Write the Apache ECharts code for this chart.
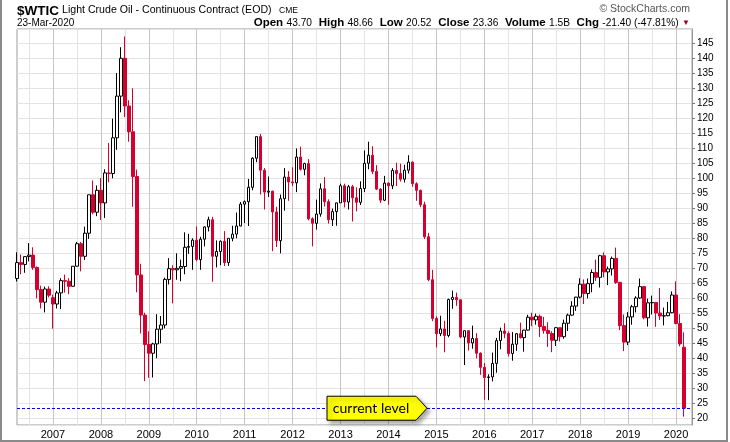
<!DOCTYPE html>
<html><head><meta charset="utf-8">
<script src="https://cdn.jsdelivr.net/npm/echarts@6/dist/echarts.min.js"></script>
<style>html,body{margin:0;padding:0;background:#fff}#c{width:730px;height:442px}</style>
</head><body><div id="c"></div>
<script>
// Monthly candles, Apr 2006 .. Mar 2020
const START_YEAR = 2006, START_MONTH = 4, AXIS_MONTHS = 170; // axis runs to May 2020
const openP = [
 66.6, 71.9, 71.3, 73.9, 74.4, 70.3, 62.9, 58.7, 63.1,
 60.2, 58.1, 61.8, 65.9, 65.7, 64.0, 70.7, 78.2, 74.0, 81.7, 94.5, 88.7,
 96.0, 91.8, 101.8, 101.6, 113.5, 127.4, 140.0, 124.1, 115.5, 100.6, 67.8, 54.4,
 44.6, 41.7, 44.8, 49.7, 51.1, 66.3, 69.9, 69.5, 70.0, 70.6, 77.0, 77.3,
 79.4, 72.9, 79.7, 83.8, 86.2, 74.0, 75.6, 79.0, 71.9, 80.0, 81.4, 84.1,
 91.4, 92.2, 97.0, 106.7, 113.9, 102.7, 95.4, 95.7, 88.8, 79.2, 93.2, 100.4,
 98.8, 98.5, 107.1, 103.0, 104.9, 86.5, 85.0, 88.1, 96.5, 92.2, 86.2, 88.9,
 91.8, 97.5, 92.1, 97.2, 93.5, 92.0, 96.6, 105.0, 107.7, 102.3, 96.4, 92.7,
 98.4, 97.5, 102.6, 101.6, 99.7, 102.7, 105.4, 98.2, 96.0, 91.2, 80.5, 66.2,
 53.3, 48.2, 49.8, 47.6, 59.6, 60.3, 59.5, 47.1, 49.2, 45.1, 46.6, 41.7,
 37.0, 33.6, 33.8, 38.3, 45.9, 49.1, 48.3, 41.6, 44.7, 48.2, 46.9, 49.4,
 53.7, 52.8, 54.0, 50.6, 49.3, 48.3, 46.0, 50.2, 47.2, 51.7, 54.4, 57.4,
 60.4, 64.7, 61.6, 64.9, 68.6, 67.0, 74.2, 68.8, 69.8, 73.3, 65.3, 50.9,
 45.4, 53.8, 57.2, 60.1, 63.9, 53.5, 58.5, 58.6, 55.1, 54.1, 54.2, 55.2,
 61.1, 51.6, 43.7
];
const highP = [
 75.35, 74.6, 74.0, 78.4, 77.0, 70.6, 64.2, 63.9, 64.0,
 61.2, 62.5, 66.7, 67.9, 66.7, 70.7, 78.8, 78.8, 83.9, 94.5, 99.3, 97.6,
 100.1, 103.0, 111.8, 119.9, 135.1, 143.7, 147.3, 126.0, 130.0, 102.9, 71.5, 55.2,
 49.0, 45.2, 54.7, 54.1, 66.9, 73.4, 71.0, 75.0, 72.9, 82.0, 81.5, 80.0,
 83.95, 80.5, 83.9, 87.2, 87.15, 79.3, 79.3, 82.4, 80.1, 84.2, 88.6, 92.1,
 92.6, 99.8, 107.0, 113.9, 114.8, 103.4, 100.6, 95.9, 90.5, 94.6, 103.4, 102.4,
 103.7, 109.95, 110.55, 105.2, 106.4, 87.0, 92.9, 98.3, 100.4, 93.0, 89.9, 91.9,
 98.2, 98.2, 97.8, 97.8, 97.0, 99.0, 109.3, 112.2, 110.7, 104.4, 96.7, 100.8,
 98.6, 103.4, 105.2, 104.9, 104.5, 107.7, 105.6, 98.7, 96.2, 92.2, 81.8, 69.5,
 54.0, 54.2, 52.5, 59.9, 62.6, 61.9, 59.7, 49.3, 49.3, 50.9, 48.4, 42.0,
 38.4, 34.7, 41.9, 46.8, 50.2, 51.7, 49.0, 48.75, 48.4, 51.9, 49.5, 54.5,
 55.2, 54.9, 54.6, 53.8, 52.0, 49.0, 50.4, 50.2, 52.9, 54.9, 59.05, 60.5,
 66.7, 66.3, 66.6, 69.6, 72.9, 74.5, 75.3, 70.6, 73.9, 76.9, 65.5, 54.6,
 55.4, 57.8, 60.7, 66.6, 64.0, 59.9, 60.9, 58.8, 63.4, 56.9, 58.8, 62.3,
 65.65, 54.7, 48.66
];
const lowP = [
 65.6, 68.0, 68.5, 72.3, 69.5, 60.0, 56.6, 55.3, 60.3,
 49.9, 56.6, 56.4, 61.9, 61.4, 63.9, 70.5, 69.0, 72.8, 79.8, 88.0, 87.4,
 86.1, 86.8, 98.7, 100.0, 109.5, 122.0, 120.4, 112.2, 90.5, 62.0, 48.3, 32.4,
 33.5, 33.6, 40.0, 45.0, 50.0, 64.6, 58.3, 66.2, 65.7, 68.0, 74.8, 69.5,
 72.4, 69.5, 77.3, 82.3, 65.5, 70.3, 71.0, 70.8, 70.8, 79.0, 80.0, 84.0,
 85.1, 84.1, 96.0, 105.4, 94.6, 89.6, 93.8, 75.7, 77.1, 75.0, 89.2, 92.5,
 97.4, 95.4, 102.6, 101.0, 86.0, 77.3, 82.9, 87.2, 90.6, 84.9, 84.1, 84.2,
 91.8, 90.3, 89.6, 85.6, 89.0, 91.1, 95.4, 103.0, 101.4, 96.1, 91.8, 92.4,
 91.2, 96.4, 97.4, 98.9, 98.6, 101.6, 97.2, 92.5, 90.4, 79.8, 65.7, 52.4,
 43.6, 47.4, 42.0, 47.0, 56.5, 57.5, 46.7, 37.75, 42.6, 43.2, 40.0, 34.5,
 26.2, 26.05, 32.3, 35.2, 43.0, 46.7, 40.6, 39.2, 42.5, 46.6, 42.2, 49.3,
 50.7, 51.2, 47.1, 48.2, 43.8, 42.05, 44.1, 45.6, 46.5, 49.1, 54.2, 55.8,
 59.95, 58.1, 59.95, 62.0, 65.8, 63.6, 67.0, 64.4, 67.6, 64.8, 49.4, 42.4,
 44.4, 51.2, 55.3, 59.8, 53.0, 50.6, 54.6, 50.5, 52.8, 50.99, 54.0, 55.0,
 51.3, 44.0, 20.52
];
const closeP = [
 71.9, 71.3, 73.9, 74.4, 70.3, 62.9, 58.7, 63.1, 61.05,
 58.1, 61.8, 65.9, 65.7, 64.0, 70.7, 78.2, 74.0, 81.7, 94.5, 88.7, 96.0,
 91.8, 101.8, 101.6, 113.5, 127.4, 140.0, 124.1, 115.5, 100.6, 67.8, 54.4, 44.6,
 41.7, 44.8, 49.7, 51.1, 66.3, 69.9, 69.5, 70.0, 70.6, 77.0, 77.3, 79.4,
 72.9, 79.7, 83.8, 86.2, 74.0, 75.6, 79.0, 71.9, 80.0, 81.4, 84.1, 91.4,
 92.2, 97.0, 106.7, 113.9, 102.7, 95.4, 95.7, 88.8, 79.2, 93.2, 100.4, 98.8,
 98.5, 107.1, 103.0, 104.9, 86.5, 85.0, 88.1, 96.5, 92.2, 86.2, 88.9, 91.8,
 97.5, 92.1, 97.2, 93.5, 92.0, 96.6, 105.0, 107.7, 102.3, 96.4, 92.7, 98.4,
 97.5, 102.6, 101.6, 99.7, 102.7, 105.4, 98.2, 96.0, 91.2, 80.5, 66.2, 53.3,
 48.2, 49.8, 47.6, 59.6, 60.3, 59.5, 47.1, 49.2, 45.1, 46.6, 41.7, 37.0,
 33.6, 33.8, 38.3, 45.9, 49.1, 48.3, 41.6, 44.7, 48.2, 46.9, 49.4, 53.7,
 52.8, 54.0, 50.6, 49.3, 48.3, 46.0, 50.2, 47.2, 51.7, 54.4, 57.4, 60.4,
 64.7, 61.6, 64.9, 68.6, 67.0, 74.2, 68.8, 69.8, 73.3, 65.3, 50.9, 45.4,
 53.8, 57.2, 60.1, 63.9, 53.5, 58.5, 58.6, 55.1, 54.1, 54.2, 55.2, 61.1,
 51.6, 44.8, 23.36
];
const CURRENT_LEVEL = 23.36;
const Y_MIN = 17.77, Y_MAX = 149.77;

const categories = [];
for (let i = 0; i < AXIS_MONTHS; i++) {
  const m0 = START_MONTH - 1 + i;
  const y = START_YEAR + Math.floor(m0 / 12), m = (m0 % 12) + 1;
  categories.push(y + '-' + (m < 10 ? '0' + m : m));
}
const candles = openP.map((o, i) => [o, closeP[i], lowP[i], highP[i]]);
const isMonth = (v, mm) => v.slice(5) === mm;

const FONT = '"Liberation Sans", Arial, sans-serif';
const RED = '#d4002e';
const chart = echarts.init(document.getElementById('c'), null, {renderer: 'canvas'});
chart.setOption({
  animation: false,
  backgroundColor: '#fff',
  grid: {left: 17, right: 38, top: 29, bottom: 17, show: true, borderColor: '#9a9a9a', borderWidth: 1, backgroundColor: 'transparent'},
  xAxis: [{
    type: 'category', data: categories, boundaryGap: false,
    axisLine: {show: false}, axisTick: {show: false},
    axisLabel: {interval: (i, v) => isMonth(v, '01'), formatter: v => v.slice(0, 4),
      fontFamily: FONT, fontSize: 11, color: '#000', margin: 4},
    splitLine: {show: true, interval: (i, v) => isMonth(v, '01'), lineStyle: {color: '#c6c6c6', width: 1}}
  }, {
    type: 'category', data: categories, boundaryGap: false, position: 'top',
    axisLine: {show: false}, axisTick: {show: false}, axisLabel: {show: false},
    splitLine: {show: true, interval: (i, v) => isMonth(v, '07'), lineStyle: {color: '#e3e3e3', width: 1}}
  }],
  yAxis: {
    type: 'value', position: 'right', min: Y_MIN, max: Y_MAX, splitNumber: 26,
    axisLine: {show: true, lineStyle: {color: '#9a9a9a'}},
    axisTick: {show: true, length: 3, lineStyle: {color: '#777'}},
    axisLabel: {showMinLabel: false, showMaxLabel: false, fontFamily: FONT, fontSize: 10, color: '#000', margin: 5},
    splitLine: {show: true, lineStyle: {color: '#e3e3e3', width: 1}}
  },
  series: [{
    type: 'candlestick', data: candles, barWidth: 3, clip: true,
    itemStyle: {color: '#ffffff', color0: RED, borderColor: '#000', borderColor0: RED, borderWidth: 1},
    markLine: {
      silent: true, symbol: 'none', animation: false,
      label: {show: false},
      lineStyle: {color: '#0000ff', type: [3, 2], width: 1},
      data: [{yAxis: CURRENT_LEVEL}]
    }
  }],
  graphic: [
    {type: 'line', shape: {x1: 1, y1: 0, x2: 1, y2: 441}, style: {stroke: '#8a8a8a', lineWidth: 2}},
    {type: 'line', shape: {x1: 727, y1: 0, x2: 727, y2: 441}, style: {stroke: '#8a8a8a', lineWidth: 2}},
    {type: 'line', shape: {x1: 0, y1: 441, x2: 728, y2: 441}, style: {stroke: '#8a8a8a', lineWidth: 2}},
    {type: 'text', left: 17, top: 4, style: {text: '$WTIC', font: 'bold 13.5px ' + FONT, fill: '#000'}},
    {type: 'text', left: 62, top: 5, style: {text: 'Light Crude Oil - Continuous Contract (EOD)', font: '10.6px ' + FONT, fill: '#000'}},
    {type: 'text', left: 279, top: 6, style: {text: 'CME', font: '8.5px ' + FONT, fill: '#000'}},
    {type: 'text', left: 17, top: 18, style: {text: '23-Mar-2020', font: '10px ' + FONT, fill: '#000'}},
    {type: 'text', right: 40, top: 4, style: {text: '\u00A9 StockCharts.com', font: '10.5px ' + FONT, fill: '#555'}},
    {type: 'text', right: 40, top: 17, style: {
      text: '{b|Open} {v|43.70}  {b|High} {v|48.66}  {b|Low} {v|20.52}  {b|Close} {v|23.36}  {b|Volume} {v|1.5B}  {b|Chg} {v|-21.40 (-47.81%)} {t|\u25BC}',
      rich: {
        b: {font: 'bold 11.5px ' + FONT, fill: '#000'},
        v: {font: '10.2px ' + FONT, fill: '#000'},
        t: {font: '8px ' + FONT, fill: '#a00028'}
      }
    }}
  ]
});

const yPix = chart.convertToPixel({yAxisIndex: 0}, CURRENT_LEVEL);
chart.setOption({graphic: [
  {type: 'polygon', id: 'callout', z: 100,
    shape: {points: [[327, yPix - 12], [416, yPix - 12], [427, yPix], [416, yPix + 12], [327, yPix + 12]]},
    style: {fill: '#ffff00', stroke: '#000', lineWidth: 1, shadowBlur: 4, shadowOffsetX: 3, shadowOffsetY: 3, shadowColor: 'rgba(0,0,0,0.35)'}},
  {type: 'text', id: 'calloutText', z: 101, x: 371, y: yPix,
    style: {text: 'current level', font: '14px Lato, "Open Sans", sans-serif', fill: '#000', align: 'center', verticalAlign: 'middle'}}
]});
</script></body></html>
